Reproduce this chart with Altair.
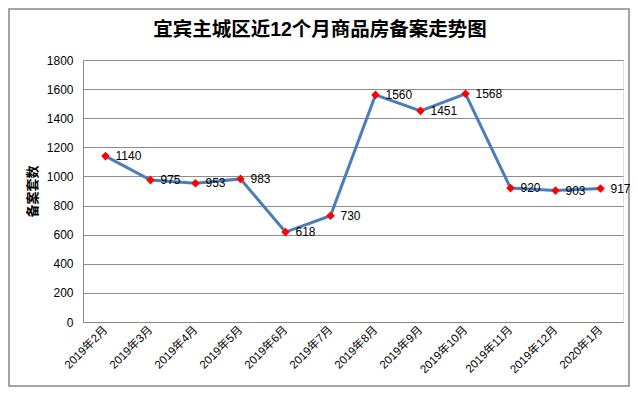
import altair as alt
import pandas as pd

title_text = ["宜宾主城区近12个月商品房备案走势图"]
months = ["2019年2月", "2019年3月", "2019年4月", "2019年5月", "2019年6月", "2019年7月",
          "2019年8月", "2019年9月", "2019年10月", "2019年11月", "2019年12月", "2020年1月"]
values = [1140, 975, 953, 983, 618, 730, 1560, 1451, 1568, 920, 903, 917]

df = pd.DataFrame({"month": months, "value": values})

FONT = "Liberation Sans, Noto Sans CJK SC"
W, H = 540, 262
PL, PR, PT, PB = 75, 7, 52, 65

x = alt.X("month:N", sort=months, title=None,
          scale=alt.Scale(paddingInner=0, paddingOuter=0),
          axis=alt.Axis(labelAngle=-45, labelAlign="right", labelBaseline="middle",
                        labelFontSize=11.5, labelColor="#000", ticks=False, labelPadding=6,
                        domainColor="#888", labelFont=FONT))
y = alt.Y("value:Q", title="备案套数",
          scale=alt.Scale(domain=[0, 1800], nice=False),
          axis=alt.Axis(values=list(range(0, 1801, 200)), format="d", ticks=False, labelPadding=10,
                        gridColor="#8c8c8c", domainColor="#888", labelFontSize=12,
                        labelColor="#000", labelFont=FONT, titleFont=FONT,
                        titleFontSize=13, titleFontWeight="bold", titleColor="#000",
                        titlePadding=7))

base = alt.Chart(df)
line = base.mark_line(color="#4a7ebb", strokeWidth=3).encode(x=x, y=y)
pts = base.mark_point(shape="diamond", filled=True, color="#ff0000", size=75, opacity=1).encode(x=x, y=y)
labels = base.mark_text(align="left", baseline="middle", dx=10, fontSize=12, color="#000",
                        font=FONT).encode(x=x, y=y, text="value:Q")
border = alt.Chart(pd.DataFrame({"a": [0]})).mark_rect(fill=None, stroke="#888", strokeWidth=1.5).encode(
    x=alt.value(-PL + 1), x2=alt.value(W + PR - 1), y=alt.value(-PT + 1), y2=alt.value(H + PB - 1))
title = alt.Chart(pd.DataFrame({"t": title_text})).mark_text(
    fontSize=19.5, fontWeight="bold", font=FONT, color="#000", align="center", baseline="middle"
).encode(text="t:N", x=alt.value(237), y=alt.value(-30))

chart = alt.layer(border, line, pts, labels, title).properties(
    width=W, height=H,
    autosize=alt.AutoSizeParams(type="none"),
    padding={"left": PL, "right": PR, "top": PT, "bottom": PB},
).configure_view(stroke=None).configure(background="white")

chart.save("out.html", embed_options={"renderer": "svg", "actions": False})
